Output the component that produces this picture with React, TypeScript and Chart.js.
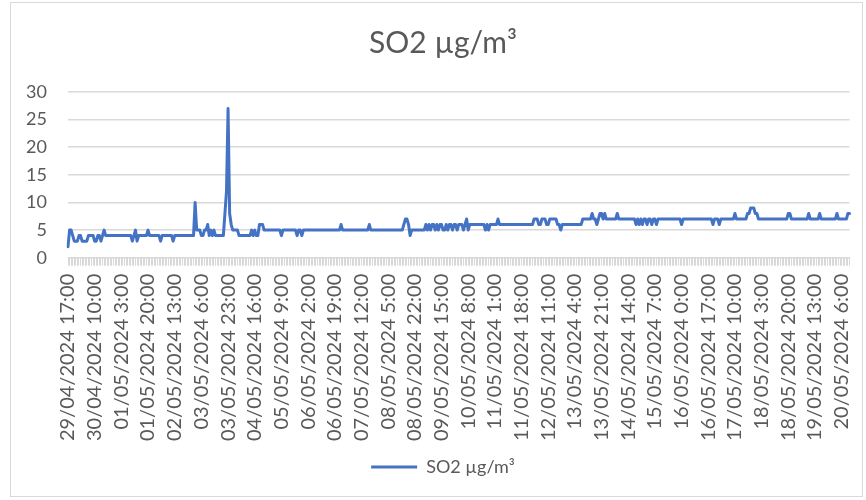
import React, { useEffect, useRef } from 'react';
import { Chart, registerables } from 'chart.js';

Chart.register(...registerables);

const SERIES_NAME = 'SO2 µg/m³';
const START_UTC = Date.UTC(2024, 3, 29, 17, 0); // 29/04/2024 17:00, hourly readings
const TICK_EVERY = 17;
const Y_MIN = 0;
const Y_MAX = 30;
const Y_STEP = 5;

// hourly SO2 readings (µg/m³)
const SO2: number[] = [
  2, 5, 5, 4, 3, 3, 3, 4, 4, 3,
  3, 3, 3, 4, 4, 4, 4, 3, 3, 4,
  4, 3, 4, 5, 4, 4, 4, 4, 4, 4,
  4, 4, 4, 4, 4, 4, 4, 4, 4, 4,
  4, 3, 4, 5, 3, 4, 4, 4, 4, 4,
  4, 5, 4, 4, 4, 4, 4, 4, 4, 3,
  4, 4, 4, 4, 4, 4, 4, 3, 4, 4,
  4, 4, 4, 4, 4, 4, 4, 4, 4, 4,
  4, 10, 5, 5, 5, 4, 4, 5, 5, 6,
  4, 5, 4, 5, 4, 4, 4, 4, 4, 4,
  8, 12, 27, 8, 6, 5, 5, 5, 5, 4,
  4, 4, 4, 4, 4, 4, 4, 5, 4, 5,
  4, 4, 6, 6, 6, 5, 5, 5, 5, 5,
  5, 5, 5, 5, 5, 5, 4, 5, 5, 5,
  5, 5, 5, 5, 5, 5, 4, 5, 5, 4,
  5, 5, 5, 5, 5, 5, 5, 5, 5, 5,
  5, 5, 5, 5, 5, 5, 5, 5, 5, 5,
  5, 5, 5, 5, 6, 5, 5, 5, 5, 5,
  5, 5, 5, 5, 5, 5, 5, 5, 5, 5,
  5, 5, 6, 5, 5, 5, 5, 5, 5, 5,
  5, 5, 5, 5, 5, 5, 5, 5, 5, 5,
  5, 5, 5, 5, 6, 7, 7, 6, 4, 5,
  5, 5, 5, 5, 5, 5, 5, 5, 6, 5,
  6, 5, 6, 6, 5, 6, 5, 6, 6, 5,
  5, 6, 5, 6, 6, 5, 6, 6, 5, 6,
  6, 6, 5, 6, 7, 5, 6, 6, 6, 6,
  6, 6, 6, 6, 6, 6, 5, 6, 5, 6,
  6, 6, 6, 6, 7, 6, 6, 6, 6, 6,
  6, 6, 6, 6, 6, 6, 6, 6, 6, 6,
  6, 6, 6, 6, 6, 6, 6, 7, 7, 7,
  6, 6, 7, 7, 7, 6, 6, 7, 7, 7,
  7, 7, 6, 6, 5, 6, 6, 6, 6, 6,
  6, 6, 6, 6, 6, 6, 6, 6, 7, 7,
  7, 7, 7, 7, 8, 7, 7, 6, 7, 8,
  8, 7, 8, 7, 7, 7, 7, 7, 7, 7,
  8, 7, 7, 7, 7, 7, 7, 7, 7, 7,
  7, 7, 6, 7, 6, 7, 6, 7, 7, 6,
  7, 7, 6, 7, 7, 6, 7, 7, 7, 7,
  7, 7, 7, 7, 7, 7, 7, 7, 7, 7,
  7, 6, 7, 7, 7, 7, 7, 7, 7, 7,
  7, 7, 7, 7, 7, 7, 7, 7, 7, 7,
  7, 6, 7, 7, 7, 6, 7, 7, 7, 7,
  7, 7, 7, 7, 7, 8, 7, 7, 7, 7,
  7, 7, 7, 8, 8, 9, 9, 9, 8, 8,
  7, 7, 7, 7, 7, 7, 7, 7, 7, 7,
  7, 7, 7, 7, 7, 7, 7, 7, 7, 8,
  8, 7, 7, 7, 7, 7, 7, 7, 7, 7,
  7, 7, 8, 7, 7, 7, 7, 7, 7, 8,
  7, 7, 7, 7, 7, 7, 7, 7, 7, 7,
  8, 7, 7, 7, 7, 7, 7, 8, 8,
];

function pad2(n: number) {
  return n < 10 ? '0' + n : String(n);
}

// category labels: one per hourly reading, "DD/MM/YYYY H:00"
const CATEGORIES: string[] = SO2.map((_, i) => {
  const d = new Date(START_UTC + i * 3600000);
  return `${pad2(d.getUTCDate())}/${pad2(d.getUTCMonth() + 1)}/${d.getUTCFullYear()} ${d.getUTCHours()}:00`;
});

const FONT = 'Lato';
const TEXT_COLOR = '#595959';
const GRID_COLOR = '#d9d9d9';
const LINE_COLOR = '#4472C4';

export default function App() {
  const ref = useRef<HTMLCanvasElement>(null);

  useEffect(() => {
    if (!ref.current) return;
    const chart = new Chart(ref.current, {
      type: 'line',
      data: {
        labels: CATEGORIES,
        datasets: [
          {
            label: SERIES_NAME,
            data: SO2,
            yAxisID: 'y',
            borderColor: LINE_COLOR,
            backgroundColor: LINE_COLOR,
            borderWidth: 3,
            pointRadius: 0,
            pointHoverRadius: 0,
            tension: 0,
            borderJoinStyle: 'round',
            borderCapStyle: 'round',
          },
        ],
      },
      options: {
        responsive: false,
        animation: false,
        events: [],
        layout: { padding: { left: 20, right: 0, top: 0, bottom: 14 } },
        plugins: {
          title: {
            display: true,
            text: SERIES_NAME,
            color: TEXT_COLOR,
            font: { family: FONT, size: 30, weight: 'normal' },
            padding: { top: 25, bottom: 31 },
          },
          legend: {
            position: 'bottom',
            labels: {
              color: TEXT_COLOR,
              font: { family: FONT, size: 18 },
              boxWidth: 46,
              boxHeight: 3,
              padding: 10,
              generateLabels: (c: any) =>
                Chart.defaults.plugins.legend.labels
                  .generateLabels(c)
                  .map((l: any) => ({ ...l, lineWidth: 0, fillStyle: LINE_COLOR })),
            },
          },
          tooltip: { enabled: false },
        },
        scales: {
          x: {
            type: 'category',
            offset: false,
            grid: {
              display: true,
              drawOnChartArea: false,
              drawTicks: true,
              tickLength: 8,
              color: GRID_COLOR,
              tickColor: GRID_COLOR,
              lineWidth: 1,
            },
            border: { display: true, color: GRID_COLOR, width: 1 },
            ticks: {
              autoSkip: false,
              minRotation: 90,
              maxRotation: 90,
              padding: 8,
              color: TEXT_COLOR,
              font: { family: FONT, size: 20 },
              callback: (_v: any, i: number) => (i % TICK_EVERY === 0 ? CATEGORIES[i] : ''),
            },
            afterFit: (s: any) => {
              s.height = 190.3;
              s.paddingLeft = 0;
              s.paddingRight = 0;
            },
          },
          y: {
            position: 'left',
            min: Y_MIN,
            max: Y_MAX,
            ticks: {
              stepSize: Y_STEP,
              padding: 21,
              color: TEXT_COLOR,
              font: { family: FONT, size: 18 },
            },
            grid: { color: GRID_COLOR, lineWidth: 1.5, drawTicks: false },
            border: { display: false },
            afterFit: (s: any) => {
              s.width = 48;
            },
          },
          yRightSpace: {
            type: 'linear',
            position: 'right',
            display: true,
            grid: { display: false, drawTicks: false },
            border: { display: false },
            ticks: { display: false },
            afterFit: (s: any) => {
              s.width = 16.5;
            },
          },
        },
      },
    } as any);
    return () => chart.destroy();
  }, []);

  return (
    <div style={{ position: 'absolute', left: 0, top: 0, width: 866, height: 500, background: '#ffffff' }}>
      <canvas ref={ref} width={866} height={500} style={{ position: 'absolute', left: 0, top: 0, width: 866, height: 500 }} />
      <div
        style={{
          position: 'absolute',
          left: 10,
          top: 2,
          width: 853,
          height: 495,
          boxSizing: 'border-box',
          border: '1px solid #d9d9d9',
          pointerEvents: 'none',
        }}
      />
    </div>
  );
}
